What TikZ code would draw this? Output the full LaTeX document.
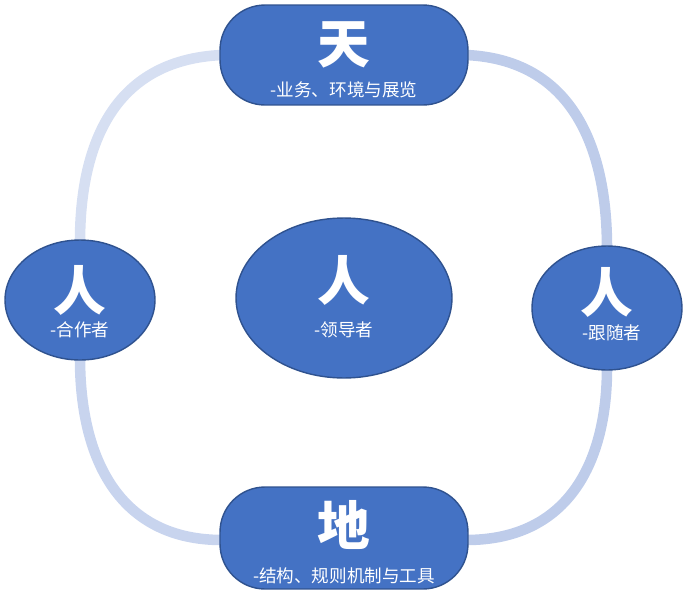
\documentclass[tikz,border=0pt]{standalone}
\usepackage{fontspec}
\usetikzlibrary{shapes.geometric}
\newfontfamily\cjk{Noto Sans CJK SC}
\definecolor{nodeblue}{RGB}{68,114,196}
\definecolor{edgeblue}{RGB}{47,82,143}
\definecolor{ringa}{RGB}{214,223,242}
\definecolor{ringb}{RGB}{190,204,234}
\definecolor{ringc}{RGB}{200,212,238}
\begin{document}
\begin{tikzpicture}[x=0.02cm,y=-0.02cm]
\tikzset{
  ring/.style = {line width=6pt, color=#1},
  box/.style = {draw=edgeblue, line width=0.8pt, fill=nodeblue, text=white},
  big/.style = {font=\cjk\bfseries\fontsize{30}{30}\selectfont, text=white},
  small/.style = {font=\cjk\fontsize{10}{12}\selectfont, text=white}
}
\useasboundingbox (0,0) rectangle (687,589);
% ring connectors
\coordinate (tl) at (222,55);
\coordinate (tr) at (466,55);
\coordinate (bl) at (222,540);
\coordinate (br) at (466,540);
\coordinate (lt) at (80,242);
\coordinate (lb) at (80,358);
\coordinate (rt) at (607,248);
\coordinate (rb) at (607,368);
\draw[ring=ringa] (tl) .. controls (110,60) and (80,150) .. (lt);
\draw[ring=ringb] (tr) .. controls (580,60) and (607,160) .. (rt);
\draw[ring=ringc] (lb) .. controls (80,460) and (120,540) .. (bl);
\draw[ring=ringb] (rb) .. controls (607,460) and (570,540) .. (br);
% nodes
\node[box, rounded corners=0.9cm, minimum width=4.96cm, minimum height=2cm] (tian) at (344,55) {};
\node[big] (tianc) at (344,45) {天};
\node[small] (tiant) at (344,90) {-业务、环境与展览};
\node[box, rounded corners=0.9cm, minimum width=4.96cm, minimum height=2.04cm] (di) at (344,538) {};
\node[big] (dic) at (344,525) {地};
\node[small] (dit) at (344,576) {-结构、规则机制与工具};
\node[box, ellipse, minimum width=3cm, minimum height=2.4cm] (hz) at (80,300) {};
\node[big] (hzc) at (80,290) {人};
\node[small] (hzt) at (80,330) {-合作者};
\node[box, ellipse, minimum width=3cm, minimum height=2.48cm] (gs) at (607,308) {};
\node[big] (gsc) at (607,292) {人};
\node[small] (gst) at (612,333) {-跟随者};
\node[box, ellipse, minimum width=4.32cm, minimum height=3.2cm] (ld) at (344,298) {};
\node[big] (ldc) at (344,280) {人};
\node[small] (ldt) at (344,330) {-领导者};
\end{tikzpicture}
\end{document}
